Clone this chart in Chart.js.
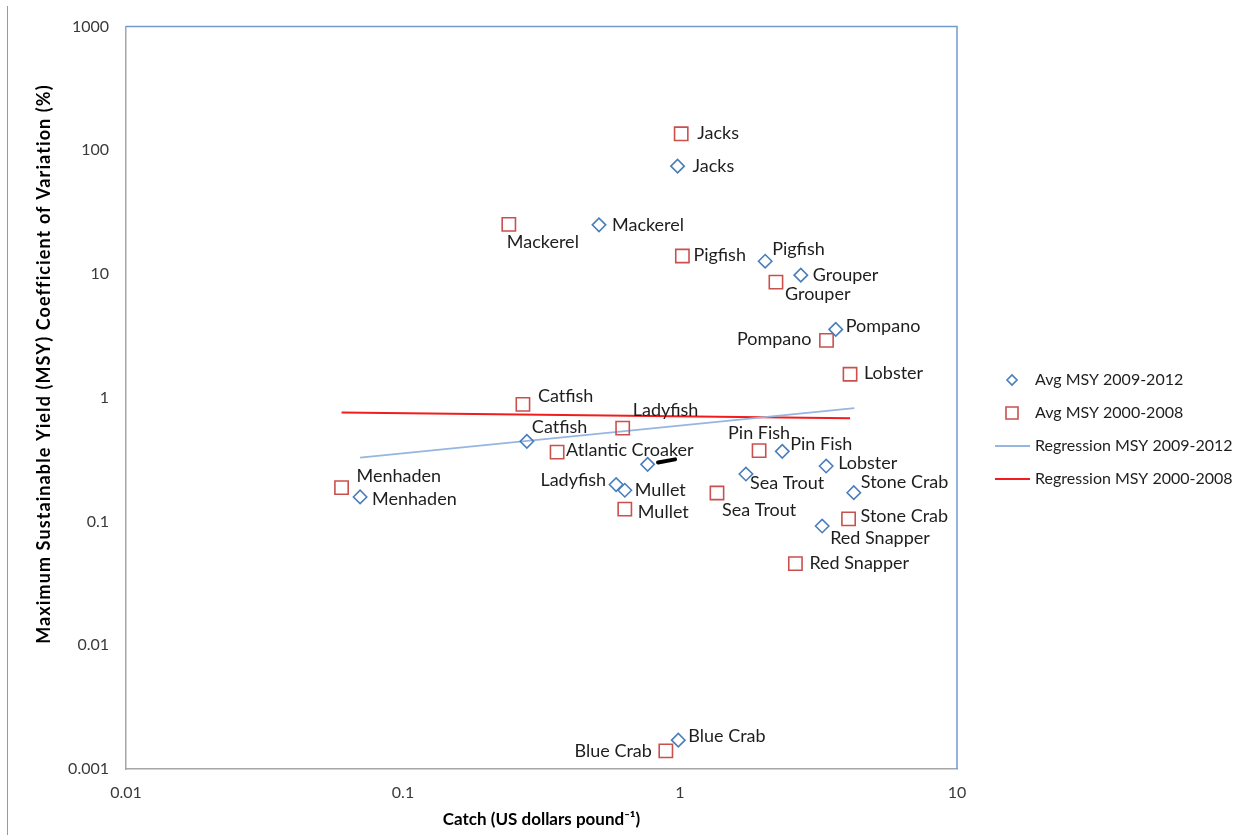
<!DOCTYPE html>
<html><head><meta charset="utf-8">
<script src="https://cdn.jsdelivr.net/npm/chart.js@4"></script>
<style>
html,body{margin:0;padding:0;background:#fff;}
#wrap{position:relative;width:1243px;height:835px;overflow:hidden;}
#edge{position:absolute;left:7px;top:6px;width:1px;height:829px;background:#9a9a9a;}
canvas{display:block;}
</style></head><body>
<div id="wrap"><canvas id="c" width="1243" height="835"></canvas><div id="edge"></div></div>
<script>
// ---- data ----
const species = ['Jacks','Mackerel','Pigfish','Grouper','Pompano','Lobster','Pin Fish','Sea Trout','Stone Crab','Red Snapper','Catfish','Ladyfish','Atlantic Croaker','Mullet','Menhaden','Blue Crab'];
const catch2009 = [0.98, 0.51, 2.03, 2.73, 3.65, 3.37, 2.34, 1.73, 4.24, 3.26, 0.28, 0.588, 0.764, 0.632, 0.070, 0.986];
const cv2009    = [74.5, 25.0, 12.7, 9.8, 3.57, 0.281, 0.369, 0.242, 0.171, 0.092, 0.445, 0.199, 0.29, 0.179, 0.158, 0.00171];
const catch2000 = [1.01, 0.241, 1.02, 2.22, 3.38, 4.11, 1.93, 1.36, 4.06, 2.61, 0.271, 0.621, 0.36, 0.632, 0.060, 0.889];
const cv2000    = [136, 25.2, 14.0, 8.6, 2.91, 1.55, 0.374, 0.170, 0.105, 0.0457, 0.885, 0.569, 0.364, 0.126, 0.188, 0.0014];
const labels2009 = ['Jacks','Mackerel','Pigfish','Grouper','Pompano','Lobster','Pin Fish','Sea Trout','Stone Crab','Red Snapper','Catfish','Ladyfish','','Mullet','Menhaden','Blue Crab'];
const labels2000 = species.slice();
const regX2009 = [0.07, 4.26];
const regY2009 = [0.328, 0.826];
const regX2000 = [0.06, 4.11];
const regY2000 = [0.762, 0.682];
const markX = [0.833, 0.96];
const markY = [0.300, 0.318];
const xTicks = [0.01, 0.1, 1, 10];
const xTickLabels = ['0.01', '0.1', '1', '10'];
const yTicks = [0.001, 0.01, 0.1, 1, 10, 100, 1000];
const yTickLabels = ['0.001', '0.01', '0.1', '1', '10', '100', '1000'];
const seriesNames = ['Avg MSY 2009-2012', 'Avg MSY 2000-2008', 'Regression MSY 2009-2012', 'Regression MSY 2000-2008'];
const xTitle = 'Catch (US dollars pound\u207B\u00B9)';
const yTitle = 'Maximum Sustainable Yield (MSY) Coefficient of Variation (%)';

const pts = (xs, ys) => xs.map((x, i) => ({x: x, y: ys[i]}));

// label placement [dx, dy, align] per species, relative to the drawn point
const place2009 = [[15,0,'left'],[13,0,'left'],[7,-12,'left'],[12,0,'left'],[10,-3,'left'],[12,-3,'left'],[8,-7,'left'],[4,9,'left'],[7,-11,'left'],[8,12,'left'],[5,-14,'left'],[-10,-4,'right'],[0,0,'left'],[10,0,'left'],[12,2,'left'],[10,-4,'left']];
const place2000 = [[16,-1,'left'],[-2,18,'left'],[11,-1,'left'],[9,12,'left'],[-15,-1,'right'],[14,-1,'left'],[0,-17,'center'],[5,17,'left'],[12,-3,'left'],[14,0,'left'],[15,-8,'left'],[10,-18,'left'],[9,-2,'left'],[13,3,'left'],[15,-11,'left'],[-14,0,'right']];

const FONT = 'Lato, "Open Sans", sans-serif';

const pointLabels = {
  id: 'pointLabels',
  afterDatasetsDraw(chart) {
    const ctx = chart.ctx;
    ctx.save();
    ctx.font = '18px ' + FONT;
    ctx.fillStyle = '#1e1e1e';
    ctx.textBaseline = 'middle';
    [[0, labels2009, place2009], [1, labels2000, place2000]].forEach(([di, labs, pl]) => {
      const meta = chart.getDatasetMeta(di);
      meta.data.forEach((el, i) => {
        if (!labs[i]) return;
        ctx.textAlign = pl[i][2];
        ctx.fillText(labs[i], el.x + pl[i][0], el.y + pl[i][1]);
      });
    });
    ctx.restore();
  }
};

const frame = {
  id: 'frame',
  beforeDatasetsDraw(chart) {
    const {ctx, chartArea: a} = chart;
    ctx.save();
    ctx.strokeStyle = '#6f9bd1';
    ctx.lineWidth = 1.5;
    ctx.beginPath();
    ctx.moveTo(a.left, a.top); ctx.lineTo(a.right, a.top); ctx.lineTo(a.right, a.bottom);
    ctx.stroke();
    ctx.restore();
  },
  afterDraw(chart) {
    const ctx = chart.ctx;
    // y-axis title
    ctx.save();
    ctx.translate(44, 364);
    ctx.rotate(-Math.PI / 2);
    ctx.font = 'bold 18px ' + FONT;
    if ('letterSpacing' in ctx) ctx.letterSpacing = '1.1px';
    ctx.fillStyle = '#000';
    ctx.textAlign = 'center';
    ctx.textBaseline = 'middle';
    ctx.fillText(yTitle, 0, 0);
    ctx.restore();
    // legend
    const ys = [380, 413, 446, 479];
    ctx.save();
    ctx.font = '16px ' + FONT;
    ctx.textBaseline = 'middle';
    ctx.textAlign = 'left';
    chart.data.datasets.slice(0, 4).forEach((ds, i) => {
      const y = ys[i];
      ctx.strokeStyle = ds.borderColor;
      ctx.fillStyle = 'rgba(255,255,255,0)';
      ctx.lineWidth = ds.borderWidth;
      if (ds.showLine) {
        ctx.beginPath(); ctx.moveTo(995, y); ctx.lineTo(1030, y); ctx.stroke();
      } else {
        Chart.helpers.drawPoint(ctx, {pointStyle: ds.pointStyle, radius: ds.pointStyle === 'rect' ? 8.5 : 5, borderWidth: ds.borderWidth, rotation: 0}, 1012, y);
      }
      ctx.fillStyle = '#1e1e1e';
      ctx.fillText(ds.label, 1035, y);
    });
    ctx.restore();
  }
};

function draw() {
  new Chart(document.getElementById('c'), {
    type: 'scatter',
    data: {
      datasets: [
        {label: seriesNames[0], data: pts(catch2009, cv2009), pointStyle: 'rectRot', pointRadius: 6.7, pointHoverRadius: 6.7, borderColor: '#4a7ebb', backgroundColor: 'rgba(255,255,255,0)', borderWidth: 1.6},
        {label: seriesNames[1], data: pts(catch2000, cv2000), pointStyle: 'rect', pointRadius: 9.4, pointHoverRadius: 9.4, borderColor: '#c9504d', backgroundColor: 'rgba(255,255,255,0)', borderWidth: 1.6},
        {label: seriesNames[2], data: pts(regX2009, regY2009), showLine: true, pointRadius: 0, borderColor: '#95b6df', borderWidth: 1.8},
        {label: seriesNames[3], data: pts(regX2000, regY2000), showLine: true, pointRadius: 0, borderColor: '#f21c1c', borderWidth: 2},
        {label: '', data: pts(markX, markY), showLine: true, pointRadius: 0, borderColor: '#000', borderWidth: 4, borderCapStyle: 'round'}
      ]
    },
    options: {
      responsive: false,
      animation: false,
      events: [],
      layout: {padding: {left: 0, right: 286, top: 26, bottom: 0}},
      plugins: {legend: {display: false}, tooltip: {enabled: false}},
      scales: {
        x: {
          type: 'logarithmic', min: 0.01, max: 10, position: 'bottom',
          afterBuildTicks: s => { s.ticks = xTicks.map(v => ({value: v})); },
          afterFit: s => { s.height = 66; },
          ticks: {callback: (v, i) => xTickLabels[i], font: {family: FONT, size: 16}, color: '#3a3a3a', padding: 14, maxRotation: 0, autoSkip: false},
          grid: {display: false, drawTicks: false},
          border: {display: true, color: '#a6a6a6', width: 1.5},
          title: {display: true, text: xTitle, font: {family: FONT, size: 17, weight: 'bold'}, color: '#000', padding: {top: 0, bottom: 5}}
        },
        y: {
          type: 'logarithmic', min: 0.001, max: 1000, position: 'left',
          afterBuildTicks: s => { s.ticks = yTicks.map(v => ({value: v})); },
          afterFit: s => { s.width = 126; },
          ticks: {callback: (v, i) => yTickLabels[i], font: {family: FONT, size: 16}, color: '#3a3a3a', padding: 17, autoSkip: false},
          grid: {display: false, drawTicks: false},
          border: {display: true, color: '#a6a6a6', width: 1.5},
          title: {display: false}
        }
      }
    },
    plugins: [frame, pointLabels]
  });
}
if (document.fonts && document.fonts.load) {
  Promise.all([document.fonts.load('16px Lato'), document.fonts.load('bold 16px Lato')]).then(draw, draw);
} else { draw(); }
</script>
</body></html>
